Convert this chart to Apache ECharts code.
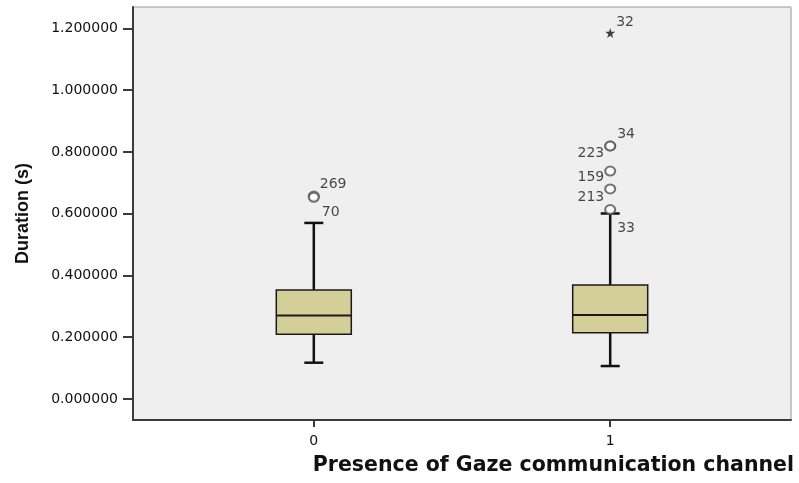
<!DOCTYPE html>
<html>
<head>
<meta charset="utf-8">
<script src="https://cdn.jsdelivr.net/npm/echarts@6/dist/echarts.min.js"></script>
<style>
  html, body { margin: 0; padding: 0; background: #fff; }
  #chart { width: 799px; height: 483px; }
</style>
</head>
<body>
<div id="chart"></div>
<script>
// groups on the x axis
var groups = [0, 1];
var groupLabels = ['0', '1'];
// box statistics per group: min whisker, Q1, median, Q3, max whisker
var whiskerLow = [0.1175, 0.1067];
var quart1 = [0.2100, 0.2145];
var medians = [0.2707, 0.2717];
var quart3 = [0.3525, 0.3687];
var whiskerHigh = [0.5700, 0.6005];
// outliers (circles)
var outlierCases = ['269', '70', '34', '223', '159', '213', '33'];
var outlierGroup = [0, 0, 1, 1, 1, 1, 1];
var outlierValues = [0.657, 0.653, 0.819, 0.819, 0.738, 0.680, 0.6135];
// extremes (stars)
var extremeCases = ['32'];
var extremeGroup = [1];
var extremeValues = [1.185];
// y ticks
var yTicks = [0, 0.2, 0.4, 0.6, 0.8, 1.0, 1.2];

// label placement for each case id (offset from the marker centre)
var labelPos = {
    '269': { align: 'left', dx: 6, dy: -12 },
    '70': { align: 'left', dx: 8, dy: 15 },
    '34': { align: 'left', dx: 7, dy: -12 },
    '223': { align: 'right', dx: -6, dy: 7 },
    '159': { align: 'right', dx: -6, dy: 6 },
    '213': { align: 'right', dx: -6, dy: 8 },
    '33': { align: 'left', dx: 7, dy: 19 },
    '32': { align: 'left', dx: 6, dy: -11 }
};

var boxData = groups.map(function (g, i) {
    return [g, whiskerLow[i], quart1[i], medians[i], quart3[i], whiskerHigh[i]];
});

function pointData(ids, grp, vals) {
    return ids.map(function (id, i) {
        var p = labelPos[id];
        return {
            value: [grp[i], vals[i]],
            name: id,
            label: {
                show: true,
                formatter: id,
                position: ['50%', '50%'],
                align: p.align,
                verticalAlign: 'middle',
                offset: [p.dx, p.dy]
            }
        };
    });
}

var chart = echarts.init(document.getElementById('chart'));

var tickFont = { fontFamily: 'DejaVu Sans', fontSize: 14, color: '#111' };

chart.setOption({
    animation: false,
    backgroundColor: '#ffffff',
    title: {
        text: 'Presence of Gaze communication channel',
        right: 0,
        bottom: 2,
        textStyle: { fontFamily: 'DejaVu Sans', fontWeight: 'bold', fontSize: 20.5, color: '#111' }
    },
    grid: {
        left: 133, top: 7, right: 8, bottom: 63,
        show: true,
        backgroundColor: '#efefef',
        borderColor: '#9a9a9a',
        borderWidth: 1
    },
    xAxis: {
        type: 'value',
        min: -0.61,
        max: 1.61,
        splitLine: { show: false },
        axisLine: { show: true, onZero: false, lineStyle: { color: '#3a3a3a', width: 2 } },
        axisTick: { show: true, customValues: groups, length: 7, lineStyle: { color: '#3a3a3a', width: 2 } },
        axisLabel: {
            customValues: groups,
            margin: 14,
            formatter: function (v) { return groupLabels[groups.indexOf(v)]; },
            fontFamily: tickFont.fontFamily, fontSize: tickFont.fontSize, color: tickFont.color
        }
    },
    yAxis: {
        type: 'value',
        min: -0.068,
        max: 1.269,
        name: 'Duration (s)',
        nameLocation: 'middle',
        nameRotate: 90,
        nameGap: 101,
        nameTextStyle: { fontFamily: 'Liberation Sans', fontWeight: 'bold', fontSize: 18, color: '#111' },
        splitLine: { show: false },
        axisLine: { show: true, onZero: false, lineStyle: { color: '#3a3a3a', width: 2 } },
        axisTick: { show: true, customValues: yTicks, length: 10, lineStyle: { color: '#3a3a3a', width: 2 } },
        axisLabel: {
            customValues: yTicks,
            margin: 15,
            formatter: function (v) { return v.toFixed(6); },
            fontFamily: tickFont.fontFamily, fontSize: tickFont.fontSize, color: tickFont.color
        }
    },
    series: [
        {
            type: 'custom',
            data: boxData,
            renderItem: function (params, api) {
                var x = api.value(0);
                var lo = api.coord([x, api.value(1)]);
                var q1 = api.coord([x, api.value(2)]);
                var md = api.coord([x, api.value(3)]);
                var q3 = api.coord([x, api.value(4)]);
                var hi = api.coord([x, api.value(5)]);
                var cx = lo[0];
                var hw = 37.5, cap = 9.5;
                var lineStyle = { stroke: '#111', lineWidth: 2.5 };
                return {
                    type: 'group',
                    children: [
                        { type: 'line', shape: { x1: cx, y1: lo[1], x2: cx, y2: q1[1] }, style: lineStyle },
                        { type: 'line', shape: { x1: cx, y1: q3[1], x2: cx, y2: hi[1] }, style: lineStyle },
                        { type: 'line', shape: { x1: cx - cap, y1: lo[1], x2: cx + cap, y2: lo[1] }, style: lineStyle },
                        { type: 'line', shape: { x1: cx - cap, y1: hi[1], x2: cx + cap, y2: hi[1] }, style: lineStyle },
                        {
                            type: 'rect',
                            shape: { x: cx - hw, y: q3[1], width: hw * 2, height: q1[1] - q3[1] },
                            style: { fill: '#d4cf98', stroke: '#1a1a1a', lineWidth: 1.5 }
                        },
                        { type: 'line', shape: { x1: cx - hw, y1: md[1], x2: cx + hw, y2: md[1] }, style: { stroke: '#1a1a1a', lineWidth: 2 } }
                    ]
                };
            }
        },
        {
            type: 'scatter',
            data: pointData(outlierCases, outlierGroup, outlierValues),
            symbol: 'emptyCircle',
            symbolSize: [10, 9],
            itemStyle: { color: '#555', borderColor: '#555', borderWidth: 1.3 },
            label: { fontFamily: 'DejaVu Sans', fontSize: 14, color: '#1a1a1a' },
            z: 5
        },
        {
            type: 'scatter',
            data: pointData(extremeCases, extremeGroup, extremeValues),
            symbol: 'path://M50,0 L61,35 L98,35 L68,57 L79,91 L50,70 L21,91 L32,57 L2,35 L39,35 Z',
            symbolSize: 10,
            itemStyle: { color: '#111' },
            label: { fontFamily: 'DejaVu Sans', fontSize: 14, color: '#1a1a1a' },
            z: 5
        }
    ]
});
</script>
</body>
</html>
